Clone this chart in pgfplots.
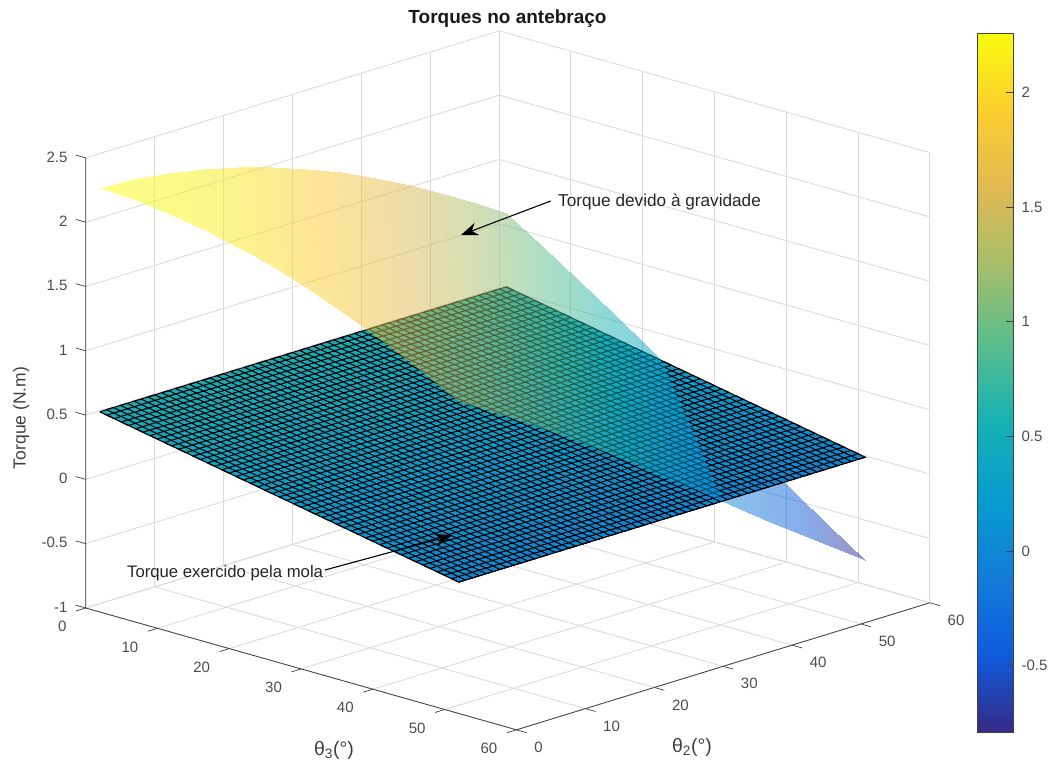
\documentclass[border=0pt]{standalone}
\usepackage{fontspec}
\setmainfont{Liberation Sans}
\usepackage{pgfplots}
\pgfplotsset{compat=1.18}
\usetikzlibrary{arrows.meta}
\pgfplotsset{colormap={parula}{rgb255=(53,42,135) rgb255=(15,92,221) rgb255=(18,125,216) rgb255=(7,156,207) rgb255=(21,177,180) rgb255=(89,189,140) rgb255=(165,190,107) rgb255=(225,185,82) rgb255=(252,206,46) rgb255=(249,251,14)}}
\newcommand{\fs}[1]{\fontsize{#1pt}{#1pt}\selectfont}
\begin{document}
\begin{tikzpicture}[x=1pt,y=1pt]
\useasboundingbox (0,0) rectangle (1052,769);
\begin{axis}[
  at={(85.7pt,289.6pt)}, anchor=origin,
  x={(7.18pt,-2.03pt)}, y={(6.89pt,2.117pt)}, z={(0pt,128.6pt)},
  xmin=0,xmax=60,ymin=0,ymax=60,zmin=-1,zmax=2.5,
  xtick={0,10,...,60},ytick={0,10,...,60},ztick={-1,-0.5,0,0.5,1,1.5,2,2.5},
  xtick pos=left, ytick pos=left, ztick pos=left,
  grid=major, major grid style={black!14,line width=0.9pt},
  axis line style={draw=none},
  tick align=outside, major tick length=7pt,
  tick style={draw=none},
  /pgf/number format/assume math mode=true,
  /pgf/number format/fixed,
  tick label style={font=\fs{15},text=black!70},
  x tick label style={anchor=east,xshift=-9pt,yshift=-16.5pt},
  y tick label style={anchor=west,xshift=7.5pt,yshift=-15.5pt},
  z tick label style={anchor=east,xshift=-8pt,yshift=3pt},
  colormap name=parula, point meta min=-0.81, point meta max=2.265,
  clip=false,
]
% gravity surface, part under the spring plane
\addplot3[surf,shader=interp,opacity=0.5,point meta=z,mesh/ordering=y varies,forget plot] table {
22.4 60 0.2997
22.4 60 0.2997
22.4 60 0.2997
22.4 60 0.2997

26 57.46 0.2581
26 58.31 0.2247
26 59.15 0.1916
26 60 0.1581

31 53.83 0.2042
31 55.89 0.1229
31 57.94 0.0419
31 60 -0.0395

36 50.18 0.1510
36 53.45 0.0218
36 56.73 -0.1079
36 60 -0.2369

41 46.54 0.0973
41 51.03 -0.0803
41 55.51 -0.2569
41 60 -0.4324

46 42.89 0.0439
46 48.60 -0.1817
46 54.30 -0.4052
46 60 -0.6246

51 39.25 -0.0099
51 46.17 -0.2828
51 53.08 -0.5513
51 60 -0.8121
};
% spring plane
\addplot3[surf,shader=interp,point meta=z,mesh/ordering=y varies,forget plot] table {
1 1 0.525
1 60 0.525

51 1 -0.010
51 60 -0.010
};
\addplot3[black,line width=1.1pt,no marks,forget plot] coordinates {
(1,1,.525)(1,60,.525)(2,60,.515)(2,1,.515)(3,1,.504)(3,60,.504)(4,60,.493)(4,1,.493)(5,1,.482)(5,60,.482)
(6,60,.472)(6,1,.472)(7,1,.461)(7,60,.461)(8,60,.450)(8,1,.450)(9,1,.440)(9,60,.440)(10,60,.429)(10,1,.429)
(11,1,.418)(11,60,.418)(12,60,.408)(12,1,.408)(13,1,.397)(13,60,.397)(14,60,.386)(14,1,.386)(15,1,.375)(15,60,.375)
(16,60,.365)(16,1,.365)(17,1,.354)(17,60,.354)(18,60,.343)(18,1,.343)(19,1,.333)(19,60,.333)(20,60,.322)(20,1,.322)
(21,1,.311)(21,60,.311)(22,60,.301)(22,1,.301)(23,1,.290)(23,60,.290)(24,60,.279)(24,1,.279)(25,1,.268)(25,60,.268)
(26,60,.258)(26,1,.258)(27,1,.247)(27,60,.247)(28,60,.236)(28,1,.236)(29,1,.226)(29,60,.226)(30,60,.215)(30,1,.215)
(31,1,.204)(31,60,.204)(32,60,.194)(32,1,.194)(33,1,.183)(33,60,.183)(34,60,.172)(34,1,.172)(35,1,.161)(35,60,.161)
(36,60,.151)(36,1,.151)(37,1,.140)(37,60,.140)(38,60,.129)(38,1,.129)(39,1,.119)(39,60,.119)(40,60,.108)(40,1,.108)
(41,1,.097)(41,60,.097)(42,60,.087)(42,1,.087)(43,1,.076)(43,60,.076)(44,60,.065)(44,1,.065)(45,1,.054)(45,60,.054)
(46,60,.044)(46,1,.044)(47,1,.033)(47,60,.033)(48,60,.022)(48,1,.022)(49,1,.012)(49,60,.012)(50,60,.001)(50,1,.001)
(51,1,-.010)(51,60,-.010)
};
\addplot3[black,line width=1.1pt,no marks,forget plot] coordinates {
(1,1,.525)(51,1,-.010)(51,2,-.010)(1,2,.525)(1,3,.525)(51,3,-.010)(51,4,-.010)(1,4,.525)(1,5,.525)(51,5,-.010)
(51,6,-.010)(1,6,.525)(1,7,.525)(51,7,-.010)(51,8,-.010)(1,8,.525)(1,9,.525)(51,9,-.010)(51,10,-.010)(1,10,.525)
(1,11,.525)(51,11,-.010)(51,12,-.010)(1,12,.525)(1,13,.525)(51,13,-.010)(51,14,-.010)(1,14,.525)(1,15,.525)(51,15,-.010)
(51,16,-.010)(1,16,.525)(1,17,.525)(51,17,-.010)(51,18,-.010)(1,18,.525)(1,19,.525)(51,19,-.010)(51,20,-.010)(1,20,.525)
(1,21,.525)(51,21,-.010)(51,22,-.010)(1,22,.525)(1,23,.525)(51,23,-.010)(51,24,-.010)(1,24,.525)(1,25,.525)(51,25,-.010)
(51,26,-.010)(1,26,.525)(1,27,.525)(51,27,-.010)(51,28,-.010)(1,28,.525)(1,29,.525)(51,29,-.010)(51,30,-.010)(1,30,.525)
(1,31,.525)(51,31,-.010)(51,32,-.010)(1,32,.525)(1,33,.525)(51,33,-.010)(51,34,-.010)(1,34,.525)(1,35,.525)(51,35,-.010)
(51,36,-.010)(1,36,.525)(1,37,.525)(51,37,-.010)(51,38,-.010)(1,38,.525)(1,39,.525)(51,39,-.010)(51,40,-.010)(1,40,.525)
(1,41,.525)(51,41,-.010)(51,42,-.010)(1,42,.525)(1,43,.525)(51,43,-.010)(51,44,-.010)(1,44,.525)(1,45,.525)(51,45,-.010)
(51,46,-.010)(1,46,.525)(1,47,.525)(51,47,-.010)(51,48,-.010)(1,48,.525)(1,49,.525)(51,49,-.010)(51,50,-.010)(1,50,.525)
(1,51,.525)(51,51,-.010)(51,52,-.010)(1,52,.525)(1,53,.525)(51,53,-.010)(51,54,-.010)(1,54,.525)(1,55,.525)(51,55,-.010)
(51,56,-.010)(1,56,.525)(1,57,.525)(51,57,-.010)(51,58,-.010)(1,58,.525)(1,59,.525)(51,59,-.010)(51,60,-.010)(1,60,.525)
};
% gravity surface, part above the spring plane
\addplot3[surf,shader=interp,opacity=0.5,point meta=z,mesh/ordering=y varies,forget plot] table {
1 1 2.2646
1 6 2.2491
1 11 2.2165
1 16 2.1670
1 21 2.1010
1 26 2.0190
1 31 1.9217
1 36 1.8097
1 41 1.6840
1 46 1.5454
1 51 1.3951
1 56 1.2342
1 60 1.0986

6 1 2.2491
6 6 2.2165
6 11 2.1670
6 16 2.1010
6 21 2.0190
6 26 1.9217
6 31 1.8097
6 36 1.6840
6 41 1.5454
6 46 1.3951
6 51 1.2342
6 56 1.0638
6 60 0.9217

11 1 2.2165
11 6 2.1670
11 11 2.1010
11 16 2.0190
11 21 1.9217
11 26 1.8097
11 31 1.6840
11 36 1.5454
11 41 1.3951
11 46 1.2342
11 51 1.0638
11 56 0.8854
11 60 0.7377

16 1 2.1670
16 6 2.1010
16 11 2.0190
16 16 1.9217
16 21 1.8097
16 26 1.6840
16 31 1.5454
16 36 1.3951
16 41 1.2342
16 46 1.0638
16 51 0.8854
16 56 0.7002
16 60 0.5482

21 1 2.1010
21 6 2.0190
21 11 1.9217
21 16 1.8097
21 21 1.6840
21 26 1.5454
21 31 1.3951
21 36 1.2342
21 41 1.0638
21 46 0.8854
21 51 0.7002
21 56 0.5097
21 60 0.3545

22.4 1 2.0796
22.4 6 1.9933
22.4 11 1.8918
22.4 16 1.7758
22.4 21 1.6464
22.4 26 1.5045
22.4 31 1.3510
22.4 36 1.1874
22.4 41 1.0146
22.4 46 0.8342
22.4 51 0.6474
22.4 56 0.4556
22.4 60 0.2997

26 1 2.0190
26 6 1.9217
26 11 1.8097
26 16 1.6840
26 21 1.5454
26 26 1.3951
26 31 1.2342
26 36 1.0638
26 41 0.8854
26 46 0.7002
26 51 0.5097
26 56 0.3154
26 57.46 0.2581

31 1 1.9217
31 6 1.8097
31 11 1.6840
31 16 1.5454
31 21 1.3951
31 26 1.2342
31 31 1.0638
31 36 0.8854
31 41 0.7002
31 46 0.5097
31 51 0.3154
31 53.83 0.2042
31 53.83 0.2042

36 1 1.8097
36 6 1.6840
36 11 1.5454
36 16 1.3951
36 21 1.2342
36 26 1.0638
36 31 0.8854
36 36 0.7002
36 41 0.5097
36 46 0.3154
36 50.18 0.1510
36 50.18 0.1510
36 50.18 0.1510

41 1 1.6840
41 6 1.5454
41 11 1.3951
41 16 1.2342
41 21 1.0638
41 26 0.8854
41 31 0.7002
41 36 0.5097
41 41 0.3154
41 46 0.1186
41 46.54 0.0973
41 46.54 0.0973
41 46.54 0.0973

46 1 1.5454
46 6 1.3951
46 11 1.2342
46 16 1.0638
46 21 0.8854
46 26 0.7002
46 31 0.5097
46 36 0.3154
46 41 0.1186
46 42.89 0.0439
46 42.89 0.0439
46 42.89 0.0439
46 42.89 0.0439

51 1 1.3951
51 6 1.2342
51 11 1.0638
51 16 0.8854
51 21 0.7002
51 26 0.5097
51 31 0.3154
51 36 0.1186
51 39.25 -0.0099
51 39.25 -0.0099
51 39.25 -0.0099
51 39.25 -0.0099
51 39.25 -0.0099
};
\draw[black!75,line width=0.8pt] (axis cs:0,0,2.5)--(axis cs:0,0,-1)--(axis cs:60,0,-1)--(axis cs:60,60,-1);
% tick marks
\draw[black!75,line width=0.7pt] (axis cs:60,0,-1)--(axis cs:61.4,0,-1) (axis cs:60,10,-1)--(axis cs:61.4,10,-1) (axis cs:60,20,-1)--(axis cs:61.4,20,-1) (axis cs:60,30,-1)--(axis cs:61.4,30,-1) (axis cs:60,40,-1)--(axis cs:61.4,40,-1) (axis cs:60,50,-1)--(axis cs:61.4,50,-1) (axis cs:60,60,-1)--(axis cs:61.4,60,-1);
\draw[black!75,line width=0.7pt] (axis cs:0,0,-1)--(axis cs:0,-1.4,-1) (axis cs:10,0,-1)--(axis cs:10,-1.4,-1) (axis cs:20,0,-1)--(axis cs:20,-1.4,-1) (axis cs:30,0,-1)--(axis cs:30,-1.4,-1) (axis cs:40,0,-1)--(axis cs:40,-1.4,-1) (axis cs:50,0,-1)--(axis cs:50,-1.4,-1) (axis cs:60,0,-1)--(axis cs:60,-1.4,-1);
\draw[black!75,line width=0.7pt] (axis cs:0,0,-1)--(axis cs:-1.4,0,-1) (axis cs:0,0,-0.5)--(axis cs:-1.4,0,-0.5) (axis cs:0,0,0)--(axis cs:-1.4,0,0) (axis cs:0,0,0.5)--(axis cs:-1.4,0,0.5) (axis cs:0,0,1)--(axis cs:-1.4,0,1) (axis cs:0,0,1.5)--(axis cs:-1.4,0,1.5) (axis cs:0,0,2)--(axis cs:-1.4,0,2) (axis cs:0,0,2.5)--(axis cs:-1.4,0,2.5);
\end{axis}
% colour bar
\begin{axis}[
  at={(977pt,37pt)}, anchor=south west, scale only axis, width=36pt, height=699pt,
  xmin=0,xmax=1,ymin=-0.79,ymax=2.26, view={0}{90},
  xtick=\empty, ytick={-0.5,0,0.5,1,1.5,2}, yticklabel pos=right, ytick pos=right,
  tick align=inside, major tick length=7pt, tick style={black!75,line width=0.7pt},
  axis line style={black!75,line width=0.7pt},
  /pgf/number format/assume math mode=true,
  /pgf/number format/fixed,
  tick label style={font=\fs{15},text=black!70},
  y tick label style={xshift=5pt},
  colormap name=parula, point meta=y,
]
\addplot3[surf,shader=interp] table {
0 -0.79 0
1 -0.79 0

0 2.26 0
1 2.26 0
};
\end{axis}
\node[font=\bfseries\fs{19},text=black!90] at (507.5,750) {Torques no antebraço};
\node[font=\fs{17.5},text=black!75,rotate=90] at (21,351) {Torque (N.m)};
\node[font=\fs{19.5},text=black!75] at (334,19) {θ\textsubscript{3}(°)};
\node[font=\fs{19.5},text=black!75] at (692,22) {θ\textsubscript{2}(°)};
\node[font=\fs{17.2},text=black!85,anchor=west,inner sep=0pt] at (558,567) {Torque devido à gravidade};
\node[font=\fs{16.7},text=black!85,anchor=west,inner sep=0pt] at (127,196) {Torque exercido pela mola};
\draw[-{Stealth[length=17pt,width=13pt]},black,line width=1.1pt] (550.7,568) -- (461,534);
\draw[-{Stealth[length=17pt,width=13pt]},black,line width=1.1pt] (325,199) -- (452,233.5);
\end{tikzpicture}
\end{document}
